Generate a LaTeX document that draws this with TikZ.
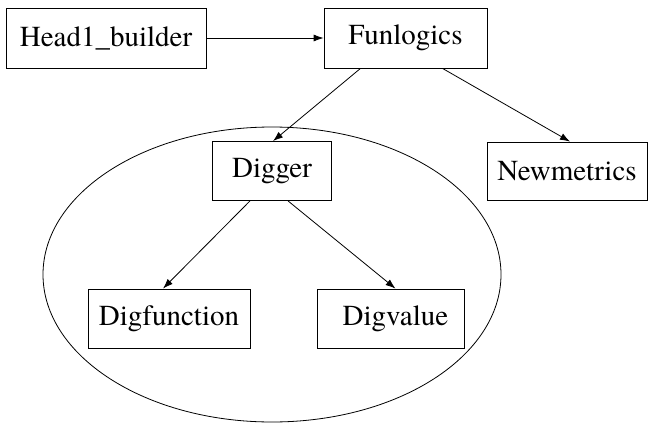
\documentclass[tikz,border=0pt]{standalone}
\usepackage{fontspec}
\newfontfamily\gvfont{TeX Gyre Termes}
\usetikzlibrary{arrows.meta,shapes.geometric}

\begin{document}
\begin{tikzpicture}[%show background rectangle,
        x=1pt, y=-1pt,
        font=\gvfont\fontsize{29}{34}\selectfont,
        modbox/.style={draw, line width=0.8pt, inner sep=0pt, minimum height=60pt},
        line width=0.8pt,
        >={Latex[length=10pt,width=7pt]} % arrow tips
        ]
            \useasboundingbox (0,0) rectangle (648,423);

            % group
            \node [draw, ellipse, minimum width=458pt, minimum height=295pt] (grp) at (272,274.5) {};

            % modules
            \node [modbox, minimum width=200pt] (head) at (106,38)    {Head1\_builder};
            \node [modbox, minimum width=163pt] (fun)  at (405.5,38)  {Funlogics};
            \node [modbox, minimum width=119pt, minimum height=59pt] (dig)  at (272,171)   {Digger};
            \node [modbox, minimum width=160pt, minimum height=58pt] (newm) at (567,171)   {Newmetrics};
            \node [modbox, minimum width=162pt, minimum height=59pt] (dfun) at (169,318.5) {Digfunction};
            \node [modbox, minimum width=147pt, minimum height=59pt] (dval) at (390.5,318.5) {\hspace{10pt}Digvalue};

            % calls
            \draw [->]  (head) -- (fun);
            \draw [->]  ([xshift=-45pt]fun.south) -- ([xshift=1pt]dig.north);
            \draw [->]  ([xshift=37pt]fun.south) -- ([xshift=3pt]newm.north);
            \draw [->]  ([xshift=-22pt]dig.south) -- ([xshift=-6pt]dfun.north);
            \draw [->]  ([xshift=16pt]dig.south) -- ([xshift=5pt]dval.north);

        \end{tikzpicture}
\end{document}
